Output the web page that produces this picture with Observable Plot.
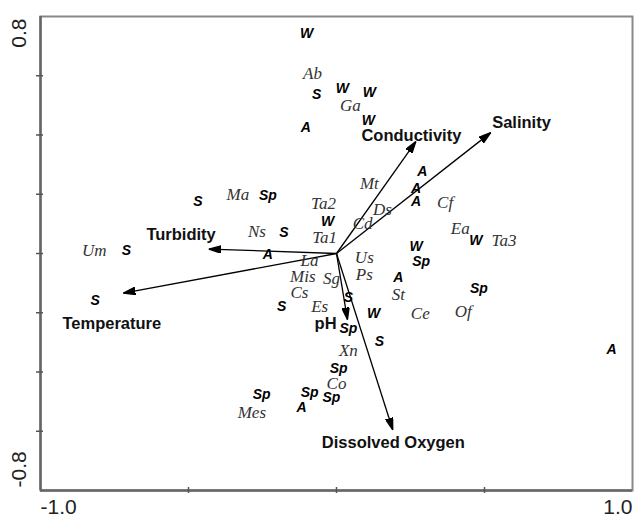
<!DOCTYPE html>
<html><head><meta charset="utf-8">
<script src="https://cdn.jsdelivr.net/npm/d3@7"></script>
<script src="https://cdn.jsdelivr.net/npm/@observablehq/plot@0.6"></script>
<style>body{margin:0;background:#fff}</style>
</head><body><div id="chart"></div>
<script>
// Sampling occasions (season codes)
const seasonLabel = ["W","S","W","W","W","A","A","A","A","S","Sp","W","W","S","S","A","W","Sp","A","Sp","S","S","S","W","Sp","S","Sp","Sp","Sp","Sp","A","A"];
const seasonX = [-0.101,-0.067,0.020,0.111,0.108,-0.104,0.290,0.269,0.269,-0.468,-0.232,-0.030,0.471,-0.178,-0.710,-0.232,0.269,0.286,0.209,0.481,-0.815,-0.185,0.040,0.125,0.040,0.145,0.007,-0.091,-0.017,-0.253,-0.118,0.929];
const seasonY = [0.743,0.537,0.557,0.543,0.449,0.425,0.277,0.219,0.176,0.176,0.196,0.108,0.044,0.071,0.010,-0.003,0.024,-0.027,-0.081,-0.118,-0.159,-0.179,-0.149,-0.203,-0.253,-0.297,-0.388,-0.469,-0.486,-0.476,-0.520,-0.324];

// Species
const speciesLabel = ["Ab","Ga","Mt","Ma","Ta2","Cf","Ds","Cd","Ea","Ta3","Ns","Ta1","Um","La","Us","Mis","Sg","Ps","Cs","Es","St","Ce","Of","Xn","Co","Mes"];
const speciesX = [-0.081,0.047,0.111,-0.333,-0.044,0.367,0.155,0.088,0.418,0.566,-0.269,-0.040,-0.818,-0.091,0.094,-0.114,-0.017,0.094,-0.125,-0.057,0.209,0.283,0.428,0.040,0.000,-0.286];
const speciesY = [0.608,0.500,0.236,0.199,0.169,0.172,0.149,0.101,0.084,0.044,0.074,0.054,0.010,-0.024,-0.014,-0.078,-0.084,-0.071,-0.132,-0.179,-0.138,-0.203,-0.196,-0.327,-0.439,-0.537];

// Environmental variables (arrow tips and label anchors)
const envLabel = ["Turbidity","Temperature","Conductivity","Salinity","pH","Dissolved Oxygen"];
const envX = [-0.431,-0.720,0.268,0.521,0.037,0.190];
const envY = [0.015,-0.134,0.378,0.408,-0.223,-0.595];
const envLabelX = [-0.525,-0.759,0.253,0.625,-0.037,0.192];
const envLabelY = [0.064,-0.236,0.398,0.442,-0.236,-0.638];

// Axes
const xDomain = [-1.0, 1.0];
const yDomain = [-0.8, 0.8];
const xTicks = [-0.5, 0, 0.5];
const yTicks = [-0.6,-0.4,-0.2,0,0.2,0.4,0.6];
const xEndLabels = ["-1.0","1.0"];
const yEndLabels = ["-0.8","0.8"];

const seasons = seasonLabel.map((l,i)=>({label:l,x:seasonX[i],y:seasonY[i]}));
const species = speciesLabel.map((l,i)=>({label:l,x:speciesX[i],y:speciesY[i]}));
const env = envLabel.map((l,i)=>({label:l,x:envX[i],y:envY[i],lx:envLabelX[i],ly:envLabelY[i]}));

function solidArrow(color) {
  const m = d3.create("svg:marker")
    .attr("viewBox","-12 -4 13 8")
    .attr("markerWidth",13).attr("markerHeight",8)
    .attr("markerUnits","userSpaceOnUse")
    .attr("refX",0).attr("refY",0)
    .attr("orient","auto");
  m.append("path").attr("d","M0,0L-12,-3.7L-12,3.7Z").attr("fill","#000");
  const node = m.node();
  node.node = () => node;
  return node;
}

const chart = Plot.plot({
  width: 634,
  height: 520,
  marginLeft: 40,
  marginRight: 2,
  marginTop: 16,
  marginBottom: 30,
  style: {background:"#fff", fontFamily:"'Liberation Sans', Arial, sans-serif"},
  x: {domain: xDomain, axis: null},
  y: {domain: yDomain, axis: null},
  marks: [
    Plot.frame({stroke:"#888", strokeWidth:2}),
    Plot.ruleX([xDomain[0]], {stroke:"#666", strokeWidth:2.5}),
    Plot.ruleY([yDomain[0]], {stroke:"#666", strokeWidth:2.5}),
    Plot.axisY({ticks: yTicks, tickSize: 7, dx: 3, tickFormat: () => "", stroke:"#555", strokeWidth:1.5, label:null}),
    Plot.axisX({ticks: xTicks, tickSize: 6, dy: -3, tickFormat: () => "", stroke:"#555", strokeWidth:1.5, label:null}),
    Plot.text([{v:xDomain[0], t:xEndLabels[0]}], {x:"v", text:"t", frameAnchor:"bottom", dy:23, textAnchor:"start", fontSize:21, fill:"#222"}),
    Plot.text([{v:xDomain[1], t:xEndLabels[1]}], {x:"v", text:"t", frameAnchor:"bottom", dy:23, textAnchor:"end", fontSize:21, fill:"#222"}),
    Plot.text([{v:yDomain[1], t:yEndLabels[1]}], {y:"v", text:"t", frameAnchor:"left", dx:-21, dy:2, rotate:-90, textAnchor:"end", fontSize:21, fill:"#222"}),
    Plot.text([{v:yDomain[0], t:yEndLabels[0]}], {y:"v", text:"t", frameAnchor:"left", dx:-21, dy:-3, rotate:-90, textAnchor:"start", fontSize:21, fill:"#222"}),
    Plot.link(env, {x1:0, y1:0, x2:"x", y2:"y", stroke:"#000", strokeWidth:1.3, markerEnd: solidArrow}),
    Plot.text(species, {x:"x", y:"y", text:"label", fontFamily:"'Liberation Serif', 'Times New Roman', serif", fontStyle:"italic", fontSize:17, fill:"#333"}),
    Plot.text(seasons, {x:"x", y:"y", text:"label", fontStyle:"italic", fontWeight:"bold", fontSize:14, fill:"#000"}),
    Plot.text(env, {x:"lx", y:"ly", text:"label", fontWeight:"bold", fontSize:16.5, fill:"#111"})
  ]
});
document.getElementById("chart").append(chart);
</script>
</body></html>
